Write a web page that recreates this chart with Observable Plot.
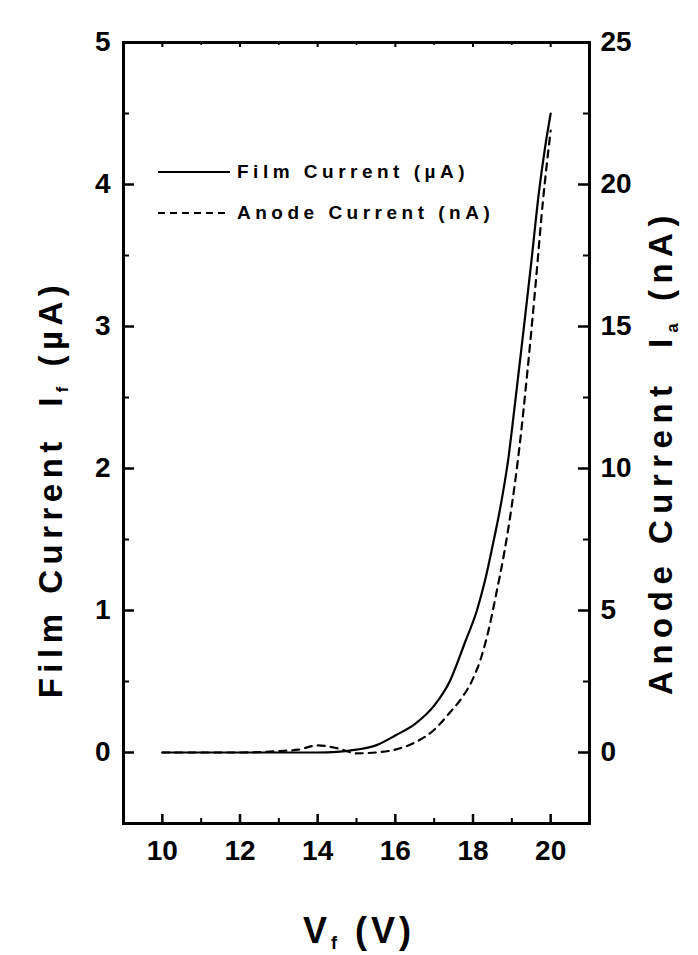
<!DOCTYPE html>
<html>
<head>
<meta charset="utf-8">
<script src="https://cdn.jsdelivr.net/npm/d3@7"></script>
<script src="https://cdn.jsdelivr.net/npm/@observablehq/plot@0.6"></script>
<style>
  html, body { margin: 0; padding: 0; background: #fff; }
</style>
</head>
<body>
<div id="chart"></div>
<script>
// Film current (µA) vs. V_f (V)
const filmV = [10, 11, 12, 13, 14, 14.5, 15, 15.5, 16, 16.5, 17, 17.4, 17.8, 18.1, 18.3, 18.5, 18.7, 18.9, 19.1, 19.3, 19.5, 19.7, 19.85, 20];
const filmI = [0, 0, 0, 0, 0, 0.005, 0.02, 0.05, 0.12, 0.2, 0.33, 0.5, 0.78, 1.0, 1.2, 1.45, 1.72, 2.05, 2.5, 2.97, 3.45, 3.95, 4.25, 4.5];
// Anode current (nA) vs. V_f (V)
const anodeV = [10, 11, 12, 13, 13.5, 14, 14.5, 15, 15.5, 16, 16.5, 17, 17.4, 17.7, 18, 18.2, 18.4, 18.6, 18.8, 19, 19.2, 19.4, 19.6, 19.8, 20];
const anodeI = [0, 0, 0, 0.05, 0.1, 0.25, 0.15, -0.03, 0, 0.1, 0.35, 0.8, 1.4, 1.9, 2.6, 3.3, 4.3, 5.6, 7.0, 8.7, 10.8, 13.4, 16.3, 19.4, 21.9];

// Axis ticks
const xMajor = [10, 12, 14, 16, 18, 20];
const xMinor = [9, 11, 13, 15, 17, 19, 21];
const leftMajor = [0, 1, 2, 3, 4, 5];
const leftMinor = [0.5, 1.5, 2.5, 3.5, 4.5];
const rightMajor = [0, 5, 10, 15, 20, 25];   // nA
const rightMinor = [2.5, 7.5, 12.5, 17.5, 22.5];
const anodeToFilm = 5; // 5 nA on right axis = 1 µA on left axis

const xDomain = [9, 21];
const yDomain = [-0.5, 5];

const film = filmV.map((v, i) => ({v, i: filmI[i]}));
const anode = anodeV.map((v, i) => ({v, i: anodeI[i]}));

const W = 698, H = 955;
const mL = 123, mR = 109, mT = 42, mB = 132;
const fw = W - mL - mR, fh = H - mT - mB;
const xpp = (xDomain[1] - xDomain[0]) / fw;  // x data units per pixel
const ypp = (yDomain[1] - yDomain[0]) / fh;  // y data units per pixel
const FONT = "'Liberation Sans', Arial, Helvetica, sans-serif";

const tickStyle = (w) => ({stroke: "#000", strokeWidth: w});

const chart = Plot.plot({
  width: W, height: H,
  marginLeft: mL, marginRight: mR, marginTop: mT, marginBottom: mB,
  x: {domain: xDomain},
  y: {domain: yDomain},
  style: {fontFamily: FONT, fontWeight: "bold", fontSize: "28px", color: "#000", background: "#fff"},
  marks: [
    // inward ticks
    Plot.ruleY(leftMajor, {y: d => d, x1: xDomain[0], x2: xDomain[0] + 11 * xpp, ...tickStyle(2.5)}),
    Plot.ruleY(leftMinor, {y: d => d, x1: xDomain[0], x2: xDomain[0] + 6 * xpp, ...tickStyle(2)}),
    Plot.ruleY(rightMajor, {y: d => d / anodeToFilm, x1: xDomain[1] - 11 * xpp, x2: xDomain[1], ...tickStyle(2.5)}),
    Plot.ruleY(rightMinor, {y: d => d / anodeToFilm, x1: xDomain[1] - 6 * xpp, x2: xDomain[1], ...tickStyle(2)}),
    Plot.ruleX(xMajor, {x: d => d, y1: yDomain[0], y2: yDomain[0] + 9 * ypp, ...tickStyle(2.5)}),
    Plot.ruleX(xMinor, {x: d => d, y1: yDomain[0], y2: yDomain[0] + 5 * ypp, ...tickStyle(2)}),
    Plot.ruleX(xMajor, {x: d => d, y1: yDomain[1] - 5 * ypp, y2: yDomain[1], ...tickStyle(2)}),
    Plot.ruleX(xMinor, {x: d => d, y1: yDomain[1] - 3 * ypp, y2: yDomain[1], ...tickStyle(1.5)}),
    // curves
    Plot.line(film, {x: "v", y: "i", stroke: "#000", strokeWidth: 2.2, curve: "monotone-x"}),
    Plot.line(anode, {x: "v", y: d => d.i / anodeToFilm, stroke: "#000", strokeWidth: 2.2, strokeDasharray: "7,6", curve: "monotone-x"}),
    // axes labels
    Plot.axisX(xMajor, {anchor: "bottom", tickSize: 0, tickPadding: 17, label: null, fontSize: 28, fontWeight: "bold", letterSpacing: 2, tickFormat: d => String(d)}),
    Plot.axisY(leftMajor, {anchor: "left", tickSize: 0, tickPadding: 13, label: null, fontSize: 28, fontWeight: "bold", tickFormat: d => String(d)}),
    Plot.axisY(rightMajor.map(d => d / anodeToFilm), {anchor: "right", tickSize: 0, tickPadding: 11, label: null, fontSize: 28, fontWeight: "bold", letterSpacing: 2, tickFormat: d => String(Math.round(d * anodeToFilm))}),
    Plot.frame({stroke: "#000", strokeWidth: 3})
  ]
});

document.getElementById("chart").appendChild(chart);

// Titles and legend
const svg = d3.select(chart);
function title(x, y, rot, parts, size, ls) {
  const t = svg.append("text")
    .attr("transform", `translate(${x},${y}) rotate(${rot})`)
    .attr("text-anchor", "middle")
    .attr("font-family", FONT)
    .attr("font-weight", "bold")
    .attr("font-size", size)
    .attr("letter-spacing", ls)
    .attr("fill", "#000");
  parts.forEach(p => {
    const s = t.append("tspan").text(p.t);
    if (p.sub) s.attr("font-size", size * 0.5).attr("dy", size * 0.18);
    if (p.after) s.attr("dy", -size * 0.18);
  });
}
title(62, 489, -90, [{t: "Film Current  I"}, {t: "f", sub: true}, {t: " (µA)", after: true}], 33, 5.5);
title(672, 452, -90, [{t: "Anode Current  I"}, {t: "a", sub: true}, {t: " (nA)", after: true}], 33, 6.5);
title(359, 943, 0, [{t: "V"}, {t: "f", sub: true}, {t: " (V)", after: true}], 36, 4);

const legend = [
  {label: "Film Current (µA)", dash: null, y: 172},
  {label: "Anode Current (nA)", dash: "7,5", y: 213}
];
legend.forEach(l => {
  const ln = svg.append("line").attr("x1", 158).attr("x2", 230).attr("y1", l.y).attr("y2", l.y)
    .attr("stroke", "#000").attr("stroke-width", 2);
  if (l.dash) ln.attr("stroke-dasharray", l.dash);
  svg.append("text").attr("x", 237).attr("y", l.y + 6)
    .attr("text-anchor", "start")
    .attr("font-family", FONT).attr("font-weight", "bold").attr("font-size", 19)
    .attr("letter-spacing", 4.5).attr("fill", "#000").text(l.label);
});
</script>
</body>
</html>
